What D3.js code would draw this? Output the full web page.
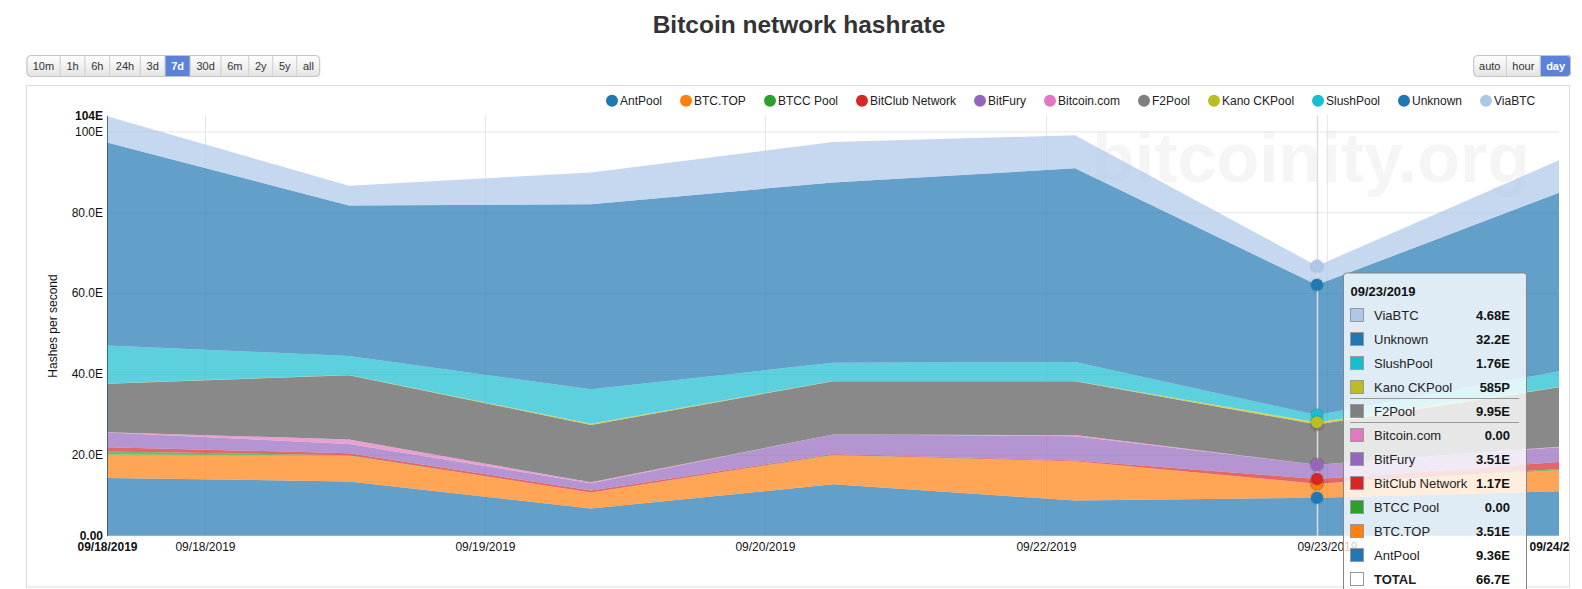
<!DOCTYPE html>
<html>
<head>
<meta charset="utf-8">
<title>Bitcoin network hashrate</title>
<script src="https://cdn.jsdelivr.net/npm/d3@7"></script>
<style>
  html, body { margin: 0; padding: 0; background: #fff; overflow: hidden; }
  svg { display: block; font-family: "Liberation Sans", Arial, sans-serif; }
  .axis text { font-size: 12px; fill: #111; }
  .axis .edge text { font-weight: bold; }
  .axis line { display: none; }
  .grid line { stroke: #e6e6e6; stroke-width: 1; }
  .grid path { display: none; }
  .marker { filter: drop-shadow(0 0 1px rgba(0,0,0,.3)); }
</style>
</head>
<body>
<script>
// all values in EH/s, one entry per day
var dates = ['2019-09-18', '2019-09-19', '2019-09-20', '2019-09-21', '2019-09-22', '2019-09-23', '2019-09-24']

var antPool    = [14.3, 13.4, 6.7, 12.7, 8.7, 9.36, 11.0]
var btcTop     = [5.8, 6.4, 4.0, 7.2, 9.7, 3.51, 5.2]
var btccPool   = [0.7, 0.1, 0, 0.1, 0, 0, 0.3]
var bitClub    = [1.1, 0.5, 0.5, 0.2, 0.2, 1.17, 1.7]
var bitFury    = [3.6, 2.3, 1.8, 4.8, 6.0, 3.51, 3.7]
var bitcoinCom = [0.1, 1.1, 0.2, 0, 0.3, 0, 0.1]
var f2Pool     = [12.0, 15.9, 14.2, 13.2, 13.3, 9.95, 14.7]
var kanoPool   = [0.05, 0.05, 0.3, 0.05, 0.05, 0.585, 0.05]
var slushPool  = [9.4, 4.7, 8.5, 4.5, 4.7, 1.76, 3.9]
var unknown    = [50.2, 37.2, 45.8, 44.6, 47.9, 32.2, 44.2]
var viaBtc     = [6.5, 4.9, 7.8, 10.0, 8.2, 4.68, 8.0]

var seriesNames = ['AntPool', 'BTC.TOP', 'BTCC Pool', 'BitClub Network', 'BitFury', 'Bitcoin.com', 'F2Pool', 'Kano CKPool', 'SlushPool', 'Unknown', 'ViaBTC']
var seriesValues = [antPool, btcTop, btccPool, bitClub, bitFury, bitcoinCom, f2Pool, kanoPool, slushPool, unknown, viaBtc]
var seriesColors = ['#1f77b4', '#ff7f0e', '#2ca02c', '#d62728', '#9467bd', '#e377c2', '#7f7f7f', '#bcbd22', '#17becf', '#1f77b4', '#aec7e8']

var yTicks = [20, 40, 60, 80, 100]
var yMax = 104

// the chart puts its date ticks between the data points
var xTickDates = ['2019-09-18T09:43', '2019-09-19T13:29', '2019-09-20T17:15', '2019-09-21T21:07', '2019-09-23T00:59']
var xTickLabels = ['09/18/2019', '09/19/2019', '09/20/2019', '09/22/2019', '09/23/2019']
var firstLabel = '09/18/2019'
var lastLabel = '09/24/2019'

var rangeButtons = ['10m', '1h', '6h', '24h', '3d', '7d', '30d', '6m', '2y', '5y', 'all']
var activeRange = '7d'
var unitButtons = ['auto', 'hour', 'day']
var activeUnit = 'day'

var hoverIndex = 5

var width = 1582, height = 589
var plotLeft = 107, plotRight = 1559, plotTop = 115.2, plotBottom = 535.7

var parseDay = d3.timeParse('%Y-%m-%d')
var parseTick = d3.timeParse('%Y-%m-%dT%H:%M')
var days = dates.map(parseDay)

var x = d3.scaleTime().domain(d3.extent(days)).range([plotLeft, plotRight])
var y = d3.scaleLinear().domain([0, yMax]).range([plotBottom, plotTop])

var rows = days.map(function(d, i) {
  var row = { date: d }
  seriesNames.forEach(function(name, s) { row[name] = seriesValues[s][i] })
  return row
})
var stacked = d3.stack().keys(seriesNames)(rows)

var svg = d3.select('body').append('svg')
  .attr('width', width)
  .attr('height', height)

var defs = svg.append('defs')
var grad = defs.append('linearGradient').attr('id', 'btnGrad').attr('x1', 0).attr('x2', 0).attr('y1', 0).attr('y2', 1)
grad.append('stop').attr('offset', '0%').attr('stop-color', '#ffffff')
grad.append('stop').attr('offset', '100%').attr('stop-color', '#e4e4e4')
defs.append('clipPath').attr('id', 'frameClip').append('rect')
  .attr('x', 0).attr('y', 0).attr('width', 1569).attr('height', height)

svg.append('text')
  .attr('x', 799)
  .attr('y', 33)
  .attr('text-anchor', 'middle')
  .attr('font-size', 24.5)
  .attr('font-weight', 'bold')
  .attr('fill', '#333')
  .text('Bitcoin network hashrate')

function drawButtons(labels, active, startX, alignRight, padding) {
  var g = svg.append('g')
  var texts = labels.map(function(d) {
    var t = g.append('text').attr('font-size', 11).attr('text-anchor', 'middle').attr('fill', '#333').text(d)
    if (d == active) t.attr('font-weight', 'bold').attr('fill', '#fff')
    return t
  })
  var widths = texts.map(function(t) { return t.node().getComputedTextLength() + padding })
  var total = d3.sum(widths)
  var pos = alignRight ? startX - total : startX
  var clipId = 'clip' + labels[0]
  defs.append('clipPath').attr('id', clipId).append('rect')
    .attr('x', pos).attr('y', 55).attr('width', total).attr('height', 21.5).attr('rx', 4)
  var back = g.insert('g', ':first-child').attr('clip-path', 'url(#' + clipId + ')')
  var cur = pos
  labels.forEach(function(d, i) {
    back.append('rect')
      .attr('x', cur).attr('y', 55).attr('width', widths[i]).attr('height', 21.5)
      .attr('fill', d == active ? '#5a82da' : 'url(#btnGrad)')
      .attr('stroke', '#d2d2d2')
    texts[i].attr('x', cur + widths[i] / 2).attr('y', 69.5)
    cur += widths[i]
  })
  g.insert('rect', 'text')
    .attr('x', pos + 0.5).attr('y', 55.5).attr('width', total - 1).attr('height', 21)
    .attr('rx', 4).attr('fill', 'none').attr('stroke', '#c4c4c4')
}
drawButtons(rangeButtons, activeRange, 26.5, false, 12.4)
drawButtons(unitButtons, activeUnit, 1571, true, 11.8)

svg.append('rect')
  .attr('x', 26.5).attr('y', 85.5)
  .attr('width', 1543).attr('height', 501.5)
  .attr('fill', '#fff')
  .attr('stroke', '#dcdcdc')

svg.append('text')
  .attr('x', 1311)
  .attr('y', 182)
  .attr('text-anchor', 'middle')
  .attr('font-size', 70)
  .attr('font-weight', 'bold')
  .attr('fill', '#f5f5f5')
  .text('bitcoinity.org')

// grid first, the areas are see-through
svg.append('g')
  .attr('class', 'grid')
  .attr('transform', 'translate(' + plotLeft + ',0)')
  .call(d3.axisLeft(y).tickValues(yTicks).tickSize(plotLeft - plotRight).tickFormat(''))

svg.append('g')
  .attr('class', 'grid')
  .attr('transform', 'translate(0,' + plotBottom + ')')
  .call(d3.axisBottom(x).tickValues(xTickDates.map(parseTick)).tickSize(plotTop - plotBottom).tickFormat(''))

var area = d3.area()
  .x(function(d) { return x(d.data.date) })
  .y0(function(d) { return y(d[0]) })
  .y1(function(d) { return y(d[1]) })

// F2Pool shows up much darker than the other bands
svg.append('g').selectAll('path')
  .data(stacked)
  .enter().append('path')
  .attr('d', area)
  .attr('fill', function(d, i) { return seriesColors[i] })
  .attr('fill-opacity', function(d) { return d.key == 'F2Pool' ? 0.92 : 0.7 })

// y axis
var yFmt = function(v) { return v == 0 ? '0.00' : v.toPrecision(3) + 'E' }
var yAxis = svg.append('g')
  .attr('class', 'axis')
  .attr('transform', 'translate(' + plotLeft + ',0)')
  .call(d3.axisLeft(y).tickValues([0].concat(yTicks, [yMax])).tickSize(0).tickPadding(4).tickFormat(yFmt))
yAxis.select('.domain').attr('stroke', '#1f4f78').attr('stroke-opacity', 0.75)
yAxis.selectAll('.tick').classed('edge', function(d) { return d == 0 || d == yMax })

// x axis, labels run under the tooltip and get cut by the frame
var tickDates = [days[0]].concat(xTickDates.map(parseTick), [days[days.length - 1]])
var tickLabels = [firstLabel].concat(xTickLabels, [lastLabel])
var xAxis = svg.append('g')
  .attr('class', 'axis')
  .attr('clip-path', 'url(#frameClip)')
  .attr('transform', 'translate(0,' + plotBottom + ')')
  .call(d3.axisBottom(x).tickValues(tickDates).tickSize(0).tickPadding(7).tickFormat(function(d, i) { return tickLabels[i] }))
xAxis.select('.domain').remove()
xAxis.selectAll('.tick').classed('edge', function(d, i) { return i == 0 || i == tickDates.length - 1 })

svg.append('text')
  .attr('transform', 'translate(57,326) rotate(-90)')
  .attr('text-anchor', 'middle')
  .attr('font-size', 12)
  .attr('fill', '#111')
  .text('Hashes per second')

// legend
var legendX = [612, 686, 770, 862, 980, 1050, 1144, 1214, 1318, 1404, 1486]
var legend = svg.append('g').selectAll('g')
  .data(seriesNames)
  .enter().append('g')
  .attr('transform', function(d, i) { return 'translate(' + legendX[i] + ',100.7)' })
legend.append('circle')
  .attr('r', 6)
  .attr('fill', function(d, i) { return seriesColors[i] })
legend.append('text')
  .attr('x', 8)
  .attr('y', 4.3)
  .attr('font-size', 12)
  .attr('fill', '#222')
  .text(function(d) { return d })

// hover line and dots
var hx = x(days[hoverIndex])
svg.append('line')
  .attr('x1', hx + 0.5).attr('x2', hx + 0.5)
  .attr('y1', plotTop).attr('y2', plotBottom)
  .attr('stroke', '#dedede')
  .attr('stroke-width', 1.5)

// draw order of the dots: kano over slush, btc.top over btcc
var dotOrder = [0, 2, 1, 3, 5, 4, 6, 8, 7, 9, 10]
svg.append('g').selectAll('circle')
  .data(dotOrder)
  .enter().append('circle')
  .attr('class', 'marker')
  .attr('cx', hx)
  .attr('cy', function(s) { return y(stacked[s][hoverIndex][1]) })
  .attr('r', 6)
  .attr('fill', function(s) { return seriesColors[s] })

// tooltip
var tipFmt = function(v) {
  if (v == 0) return '0.00'
  if (v < 1) return Math.round(v * 1000) + 'P'
  return v.toPrecision(3) + 'E'
}
var tip = svg.append('g')
tip.append('rect')
  .attr('x', 1343.5).attr('y', 273)
  .attr('width', 183).attr('height', 330)
  .attr('rx', 3)
  .attr('fill', '#fff')
  .attr('fill-opacity', 0.8)
  .attr('stroke', '#868686')
tip.append('text')
  .attr('x', 1350.5).attr('y', 295.5)
  .attr('font-size', 13)
  .attr('font-weight', 'bold')
  .attr('fill', '#111')
  .text('09/23/2019')

var tipRows = d3.range(seriesNames.length - 1, -1, -1).map(function(s) {
  return { name: seriesNames[s], color: seriesColors[s], value: tipFmt(seriesValues[s][hoverIndex]) }
})
var totalValue = d3.sum(seriesValues, function(v) { return v[hoverIndex] })
tipRows.push({ name: 'TOTAL', color: '#fff', value: tipFmt(totalValue), total: true })

var tipRow = tip.selectAll('.row')
  .data(tipRows)
  .enter().append('g')
  .attr('class', 'row')
  .attr('transform', function(d, i) { return 'translate(0,' + (315 + i * 24) + ')' })
tipRow.append('rect')
  .attr('x', 1350.5).attr('y', -6.5)
  .attr('width', 13).attr('height', 13)
  .attr('fill', function(d) { return d.color })
  .attr('stroke', '#999')
tipRow.append('text')
  .attr('x', 1374).attr('y', 4.5)
  .attr('font-size', 13)
  .attr('font-weight', function(d) { return d.total ? 'bold' : 'normal' })
  .attr('fill', '#222')
  .text(function(d) { return d.name })
tipRow.append('text')
  .attr('x', 1510).attr('y', 4.5)
  .attr('text-anchor', 'end')
  .attr('font-size', 13)
  .attr('font-weight', 'bold')
  .attr('fill', '#111')
  .text(function(d) { return d.value })

// lines above and below the F2Pool row
var f2Row = tipRows.findIndex(function(d) { return d.name == 'F2Pool' })
;[-12, 12].forEach(function(off) {
  var ly = Math.round(315 + f2Row * 24 + off) - 0.5
  tip.append('line')
    .attr('x1', 1350).attr('x2', 1519)
    .attr('y1', ly).attr('y2', ly)
    .attr('stroke', '#999')
})
</script>
</body>
</html>
